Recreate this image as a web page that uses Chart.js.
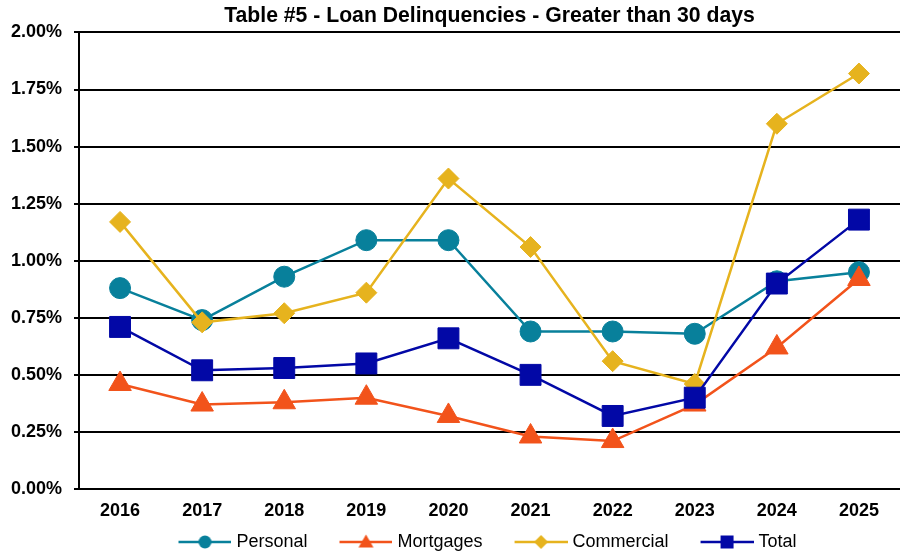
<!DOCTYPE html>
<html>
<head>
<meta charset="utf-8">
<script src="https://cdn.jsdelivr.net/npm/chart.js@4/dist/chart.umd.min.js"></script>
<style>
  html, body { margin: 0; padding: 0; background: #fff; }
  #wrap { width: 901px; height: 554px; }
</style>
</head>
<body>
<div id="wrap"><canvas id="c" width="901" height="554"></canvas></div>
<script>
// ---- data (percent) ----
const years = ['2016','2017','2018','2019','2020','2021','2022','2023','2024','2025'];
const personal   = [0.88, 0.74, 0.93, 1.09, 1.09, 0.69, 0.69, 0.68, 0.91, 0.95];
const mortgages  = [0.46, 0.37, 0.38, 0.40, 0.32, 0.23, 0.21, 0.37, 0.62, 0.92];
const commercial = [1.17, 0.73, 0.77, 0.86, 1.36, 1.06, 0.56, 0.46, 1.60, 1.82];
const total      = [0.71, 0.52, 0.53, 0.55, 0.66, 0.50, 0.32, 0.40, 0.90, 1.18];
const seriesNames = ['Personal', 'Mortgages', 'Commercial', 'Total'];
const yTicks = [0, 0.25, 0.5, 0.75, 1, 1.25, 1.5, 1.75, 2];
const titleText = 'Table #5 - Loan Delinquencies - Greater than 30 days';

// ---- styles ----
const colors = ['#08809B', '#F2531B', '#E6B31E', '#0208A6'];
const styles = ['circle', 'triangle', 'rectRot', 'rect'];
const radii  = [10.5, 13, 10.5, 14.8];
const FONT = "'Liberation Sans', Arial, sans-serif";
const LEAD = 26; // transparent lead-in of legend icon

function legendIcon(color, style) {
  const lineW = 53, H = 22;
  const cv = document.createElement('canvas');
  cv.width = LEAD + lineW; cv.height = H;
  const ctx = cv.getContext('2d');
  ctx.strokeStyle = color; ctx.fillStyle = color; ctx.lineWidth = 2.5;
  ctx.beginPath(); ctx.moveTo(LEAD, H / 2); ctx.lineTo(LEAD + lineW, H / 2); ctx.stroke();
  const cx = LEAD + lineW / 2, cy = H / 2;
  ctx.beginPath();
  if (style === 'circle') { ctx.arc(cx, cy, 6.5, 0, Math.PI * 2); }
  else if (style === 'triangle') { ctx.moveTo(cx, cy - 7.5); ctx.lineTo(cx + 7.5, cy + 5.5); ctx.lineTo(cx - 7.5, cy + 5.5); ctx.closePath(); }
  else if (style === 'rectRot') { ctx.moveTo(cx, cy - 7); ctx.lineTo(cx + 7, cy); ctx.lineTo(cx, cy + 7); ctx.lineTo(cx - 7, cy); ctx.closePath(); }
  else { ctx.rect(cx - 6.5, cy - 6.5, 13, 13); }
  ctx.fill();
  return cv;
}
const icons = colors.map((c, i) => legendIcon(c, styles[i]));

const allData = [personal, mortgages, commercial, total];
const datasets = allData.map((d, i) => ({
  label: seriesNames[i],
  data: d,
  borderColor: colors[i],
  backgroundColor: colors[i],
  borderWidth: 2.5,
  pointStyle: styles[i],
  pointRadius: radii[i],
  pointHoverRadius: radii[i],
  pointBackgroundColor: colors[i],
  pointBorderColor: colors[i],
  pointBorderWidth: 1,
  tension: 0,
  order: 4 - i
}));

const legendShift = {
  id: 'legendShift',
  afterLayout(chart) {
    const lg = chart.legend;
    if (lg) { lg.left -= 13; lg.right -= 13; }
  }
};

new Chart(document.getElementById('c'), {
  type: 'line',
  data: { labels: years, datasets },
  plugins: [legendShift],
  options: {
    responsive: false,
    animation: false,
    devicePixelRatio: 1,
    layout: { autoPadding: false, padding: { left: 0, right: 1, top: 0, bottom: -7 } },
    plugins: {
      title: {
        display: true,
        text: titleText,
        fullSize: false,
        color: '#000',
        font: { family: FONT, size: 21.2, weight: 'bold' },
        padding: { top: 3, bottom: 4 }
      },
      legend: {
        position: 'bottom',
        fullSize: false,
        labels: {
          usePointStyle: true,
          pointStyleWidth: LEAD + 45,
          padding: 10,
          color: '#000',
          font: { family: FONT, size: 18 },
          generateLabels: (chart) => chart.data.datasets.map((ds, i) => ({
            text: ds.label,
            fillStyle: ds.borderColor,
            strokeStyle: ds.borderColor,
            pointStyle: icons[i],
            lineWidth: 0,
            hidden: false,
            datasetIndex: i,
            fontColor: '#000'
          }))
        }
      },
      tooltip: { enabled: false }
    },
    scales: {
      x: {
        offset: true,
        grid: { display: false, drawTicks: false, tickLength: 0 },
        border: { display: false },
        ticks: { color: '#000', padding: 11, font: { family: FONT, size: 18, weight: 'bold' }, maxRotation: 0 },
        afterFit: (s) => { s.height = 34; s.paddingLeft = 0; s.paddingRight = 0; }
      },
      y: {
        min: 0,
        max: 2,
        afterBuildTicks: (s) => { s.ticks = yTicks.map(v => ({ value: v })); },
        grid: { color: '#000', lineWidth: 2, drawTicks: true, tickLength: 5, tickColor: '#000', tickWidth: 2 },
        border: { display: true, color: '#000', width: 2 },
        ticks: {
          color: '#000',
          padding: 12,
          font: { family: FONT, size: 18, weight: 'bold' },
          callback: (v) => Number(v).toFixed(2) + '%'
        },
        afterFit: (s) => { s.width = 79; s.paddingTop = 0; s.paddingBottom = 0; }
      }
    }
  }
});
</script>
</body>
</html>
